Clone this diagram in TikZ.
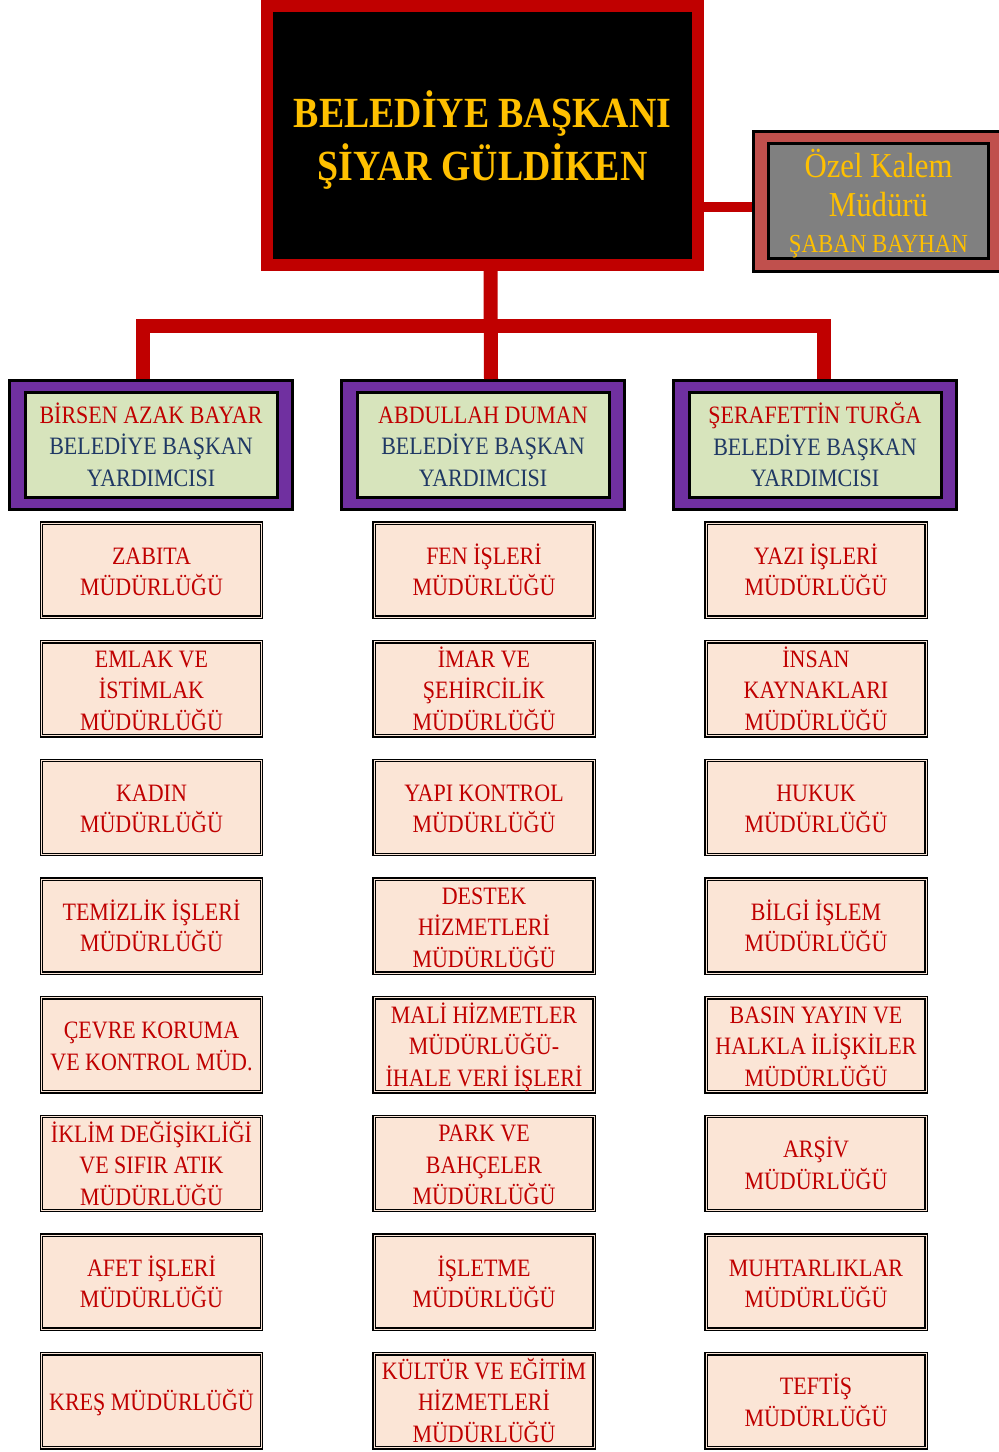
\documentclass[tikz,border=0pt]{standalone}
\usepackage{fontspec}
\setmainfont{Liberation Serif}[FakeStretch=0.88]
\usepackage{xcolor}

\definecolor{baskired}{HTML}{C00000}
\definecolor{gold}{HTML}{FFC000}
\definecolor{kalemred}{HTML}{C0504D}
\definecolor{kalemgray}{HTML}{808080}
\definecolor{yardpurple}{HTML}{7030A0}
\definecolor{yardgreen}{HTML}{D7E4BC}
\definecolor{yardnavy}{HTML}{1F3864}
\definecolor{peach}{HTML}{FBE5D6}

\newcommand{\unitfont}{\fontsize{25}{31.5}\selectfont}

\begin{document}
\begin{tikzpicture}[x=1pt, y=-1pt,
    every node/.style={align=center, inner sep=0pt},
    redline/.style={draw=baskired, line width=14pt},
    depouter/.style={fill=yardpurple, draw=black, line width=3pt, minimum width=283pt, minimum height=129pt},
    depinner/.style={fill=yardgreen, draw=black, line width=3pt, minimum width=252pt, minimum height=105pt, text=yardnavy, font=\unitfont, text depth=1pt},
    unitbox/.style={fill=peach, draw=black, double=peach, double distance=1pt, line width=1.4pt, minimum width=220pt, minimum height=94pt, text=baskired, font=\unitfont, text depth=1pt}]
    \useasboundingbox (0,0) rectangle (999,1452);

    % Belediye Baskani
    \node[fill=black, draw=baskired, line width=12pt, minimum width=431pt, minimum height=259pt, text=gold,
          font=\fontsize{43}{53}\selectfont\bfseries, text depth=0pt] (mayor) at (482.5,135.5) {BELEDİYE BAŞKANI\\ŞİYAR GÜLDİKEN};

    % Ozel Kalem
    \node[fill=kalemred, draw=black, line width=3pt, minimum width=250pt, minimum height=140pt] (kalem) at (878.5,201.5) {};
    \node[fill=kalemgray, draw=black, line width=3pt, minimum width=220pt, minimum height=115pt, text=gold,
          font=\fontsize{35}{39}\selectfont, text depth=0pt] (kalemin) at (878.5,201) {Özel Kalem\\Müdürü\\[-3pt]\fontsize{26}{30}\selectfont ŞABAN BAYHAN};
    \draw[draw=baskired, line width=10pt] ([yshift=-5pt]mayor.east |- kalem.west) -- ([yshift=-5pt]kalem.west);

    % Baskan yardimcilari
    \foreach \n/\name/\x in {1/BİRSEN AZAK BAYAR/151, 2/ABDULLAH DUMAN/483, 3/ŞERAFETTİN TURĞA/815} {
        \node[depouter] (dep\n) at (\x,445) {};
        \node[depinner] (depin\n) at (\x,445) {\vphantom{İ}\textcolor{baskired}{\name}\\BELEDİYE BAŞKAN\\YARDIMCISI};
    }

    % Baglantilar
    \coordinate (bus) at (0,326);
    \coordinate (dropl) at ([xshift=-8pt]dep1.north);
    \coordinate (dropr) at ([xshift=9pt]dep3.north);
    \draw[redline] ([xshift=8pt]mayor.south) -- ([xshift=8pt]dep2.north);
    \draw[redline] (dropl) -- (dropl |- bus) -- (dropr |- bus) -- (dropr);

    % Mudurlukler
    \foreach \txt [count=\i] in {ZABITA\\MÜDÜRLÜĞÜ, EMLAK VE\\İSTİMLAK\\MÜDÜRLÜĞÜ, KADIN\\MÜDÜRLÜĞÜ,
            TEMİZLİK İŞLERİ\\MÜDÜRLÜĞÜ, ÇEVRE KORUMA\\VE KONTROL MÜD., İKLİM DEĞİŞİKLİĞİ\\VE SIFIR ATIK\\MÜDÜRLÜĞÜ,
            AFET İŞLERİ\\MÜDÜRLÜĞÜ, KREŞ MÜDÜRLÜĞÜ}
        \node[unitbox] (left\i) at (151.5,{570+118.7*(\i-1)}) {\vphantom{İ}\txt};
    \foreach \txt [count=\i] in {FEN İŞLERİ\\MÜDÜRLÜĞÜ, İMAR VE\\ŞEHİRCİLİK\\MÜDÜRLÜĞÜ, YAPI KONTROL\\MÜDÜRLÜĞÜ,
            DESTEK\\HİZMETLERİ\\MÜDÜRLÜĞÜ, MALİ HİZMETLER\\MÜDÜRLÜĞÜ-\\İHALE VERİ İŞLERİ, PARK VE\\BAHÇELER\\MÜDÜRLÜĞÜ,
            İŞLETME\\MÜDÜRLÜĞÜ, KÜLTÜR VE EĞİTİM\\HİZMETLERİ\\MÜDÜRLÜĞÜ}
        \node[unitbox] (mid\i) at (484,{570+118.7*(\i-1)}) {\vphantom{İ}\txt};
    \foreach \txt [count=\i] in {YAZI İŞLERİ\\MÜDÜRLÜĞÜ, İNSAN\\KAYNAKLARI\\MÜDÜRLÜĞÜ, HUKUK\\MÜDÜRLÜĞÜ,
            BİLGİ İŞLEM\\MÜDÜRLÜĞÜ, BASIN YAYIN VE\\HALKLA İLİŞKİLER\\MÜDÜRLÜĞÜ, ARŞİV\\MÜDÜRLÜĞÜ,
            MUHTARLIKLAR\\MÜDÜRLÜĞÜ, TEFTİŞ\\MÜDÜRLÜĞÜ}
        \node[unitbox] (right\i) at (816,{570+118.7*(\i-1)}) {\vphantom{İ}\txt};
\end{tikzpicture}
\end{document}
